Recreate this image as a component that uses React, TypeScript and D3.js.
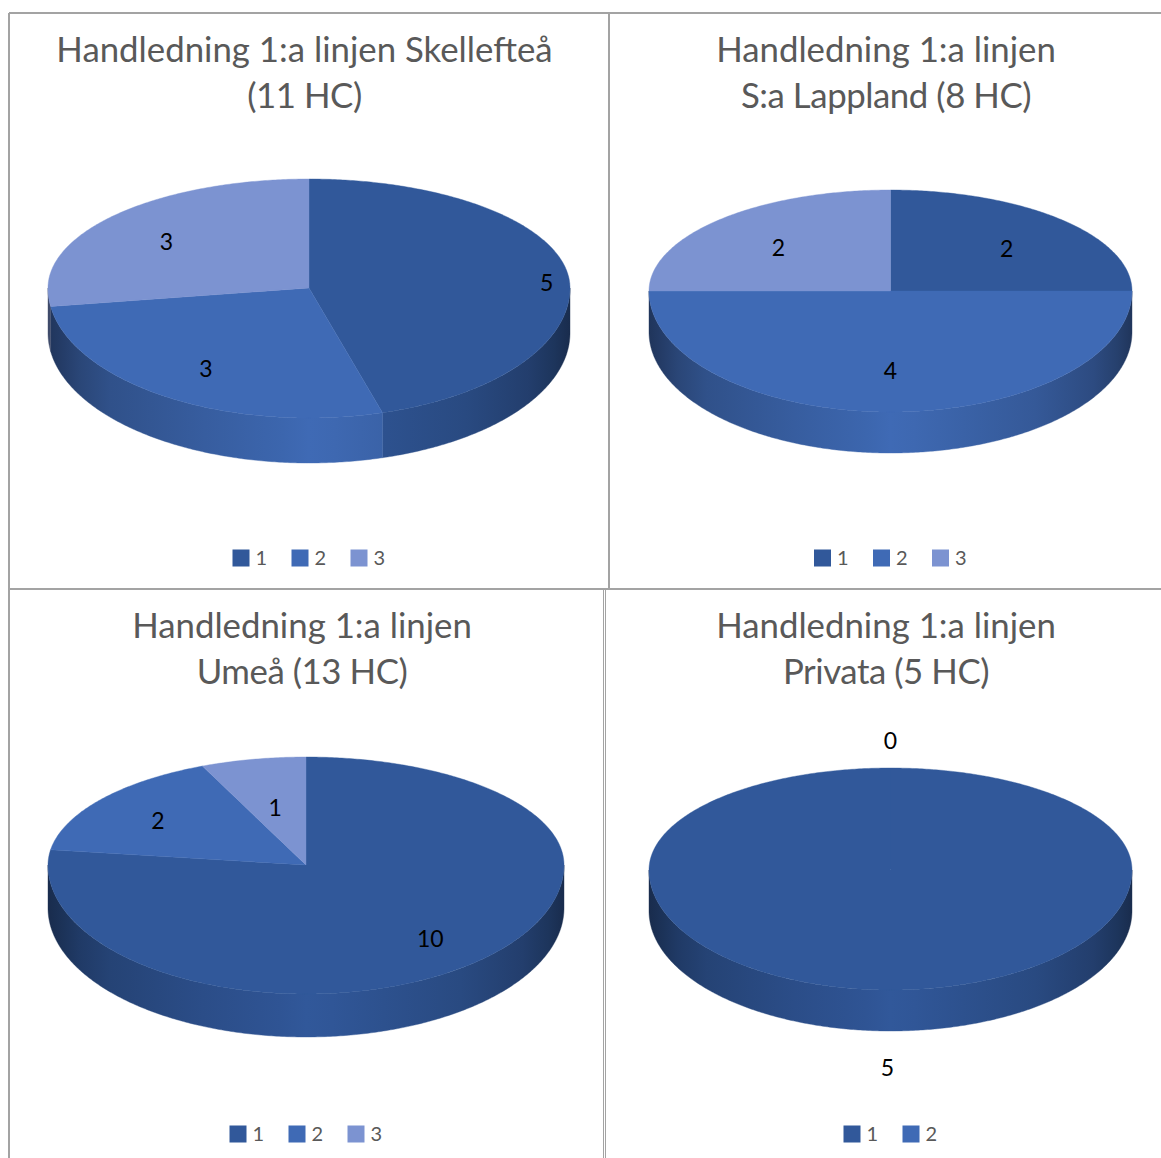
import React from "react";
import * as d3 from "d3";

// Slice counts per clinic group
const skellefteaValues = [5, 3, 3];
const lapplandValues = [2, 4, 2];
const umeaValues = [10, 2, 1];
const privataValues = [0, 5];

const skellefteaTitle = ["Handledning 1:a linjen Skellefteå", "(11 HC)"];
const lapplandTitle = ["Handledning 1:a linjen", "S:a Lappland (8 HC)"];
const umeaTitle = ["Handledning 1:a linjen", "Umeå (13 HC)"];
const privataTitle = ["Handledning 1:a linjen", "Privata (5 HC)"];

const sliceColors = ["#31589a", "#3f6ab5", "#7c93d1"];
const privataColors = [sliceColors[0], sliceColors[0]];
const titleColor = "#595959";
const ruleColor = "#a3a3a3";

// Panel geometry: apex of the pie, horizontal radius, far and near radii of the tilted disc, wall depth.
const panels = [
  { id: "a", values: skellefteaValues, colors: sliceColors, title: skellefteaTitle, titleX: 304.5, titleY: 62, cx: 309, cy: 288, rx: 261, ryFar: 109, ryNear: 130, depth: 45, legendY: 558, labelR: [0.92, 0.745, 0.7], nudge: [[1, 12], [2, 0], [-15, 9]] },
  { id: "b", values: lapplandValues, colors: sliceColors, title: lapplandTitle, titleX: 886, titleY: 62, cx: 890.5, cy: 291, rx: 241.5, ryFar: 101, ryNear: 121, depth: 41, legendY: 558, labelR: [0.65, 0.66, 0.65], nudge: [[15, 8], [0, 0], [-11, 7]] },
  { id: "c", values: umeaValues, colors: sliceColors, title: umeaTitle, titleX: 302, titleY: 638, cx: 306, cy: 865, rx: 258, ryFar: 108, ryNear: 129, depth: 43, legendY: 1134, labelR: [0.75, 0.7, 0.5], nudge: [[-4, 2], [-8, 4], [-5, -4]] },
  { id: "d", values: privataValues, colors: privataColors, title: privataTitle, titleX: 886, titleY: 638, cx: 890.5, cy: 870, rx: 241.5, ryFar: 102, ryNear: 120, depth: 41, legendY: 1134, labelR: [1.265, 1.65], nudge: [[0, 0], [-3, 0]] },
];

const farWarp = 0.085;
const legendStep = 59;
const legendGap = 24;
const swatch = 17;

type Panel = (typeof panels)[number];

// Foreshortening: slice boundaries on the far half of the disc lean toward the back.
function warp(a: number): number {
  return Math.cos(a) > 0 ? a - farWarp * Math.sin(2 * a) : a;
}

// Point on the tilted disc at projected angle `t`, at fraction `r` of the radius.
function discPoint(p: Panel, t: number, r = 1, drop = 0): [number, number] {
  const c = Math.cos(t);
  const x = p.cx + p.rx * r * Math.sin(t);
  const y = p.cy - r * c * (c > 0 ? p.ryFar : p.ryNear) + drop;
  return [x, y];
}

function samples(a0: number, a1: number): number[] {
  const n = Math.max(2, Math.ceil((a1 - a0) / 0.01));
  const step = d3.scaleLinear().domain([0, n]).range([a0, a1]);
  return d3.range(n + 1).map((i) => step(i));
}

const line = d3.line<[number, number]>();

// Side wall of a slice, limited to the front half of the disc.
function wallPath(p: Panel, a0: number, a1: number): string | null {
  const from = Math.max(warp(a0), Math.PI / 2);
  const to = Math.min(warp(a1), (3 * Math.PI) / 2);
  if (to <= from) return null;
  const angles = samples(from, to);
  const upper = angles.map((a) => discPoint(p, a));
  const lower = angles.slice().reverse().map((a) => discPoint(p, a, 1, p.depth));
  return line([...upper, ...lower]) + "Z";
}

function facePath(p: Panel, a0: number, a1: number): string {
  const rim = samples(warp(a0), warp(a1)).map((a) => discPoint(p, a));
  return line([[p.cx, p.cy], ...rim]) + "Z";
}

const wallShades: [number, number][] = [
  [0, 0.5],
  [0.03, 0.58],
  [0.06, 0.66],
  [0.12, 0.76],
  [0.3, 0.88],
  [0.45, 0.96],
  [0.5, 1],
  [0.55, 0.98],
  [0.65, 0.92],
  [0.8, 0.84],
  [0.92, 0.71],
  [0.97, 0.6],
  [1, 0.5],
];

function shade(color: string, k: number): string {
  const c = d3.rgb(color);
  return d3.rgb(c.r * k, c.g * k, c.b * k).formatHex();
}

function PiePanel({ p }: { p: Panel }) {
  const arcs = d3.pie<number>().sort(null)(p.values);
  const n = p.values.length;
  const legendX = p.cx - (n * legendStep - legendGap) / 2;
  return (
    <g>
      <defs>
        {p.colors.map((col, i) => (
          <linearGradient key={i} id={`wall-${p.id}-${i}`} gradientUnits="userSpaceOnUse" x1={p.cx - p.rx} x2={p.cx + p.rx} y1={0} y2={0}>
            {wallShades.map(([o, k]) => (
              <stop key={o} offset={o} stopColor={shade(col, k)} />
            ))}
          </linearGradient>
        ))}
      </defs>
      {p.title.map((t, i) => (
        <text key={i} x={p.titleX} y={p.titleY + i * 46} textAnchor="middle" fontFamily="Lato" fontSize={34.8} letterSpacing={i === 1 ? -0.45 : 0} fill={titleColor}>
          {t}
        </text>
      ))}
      {arcs.map((d, i) => {
        const w = wallPath(p, d.startAngle, d.endAngle);
        return w ? <path key={i} d={w} fill={`url(#wall-${p.id}-${i})`} stroke={`url(#wall-${p.id}-${i})`} strokeWidth={0.4} /> : null;
      })}
      {arcs.map((d, i) =>
        d.endAngle > d.startAngle ? <path key={i} d={facePath(p, d.startAngle, d.endAngle)} fill={p.colors[i]} stroke={p.colors[i]} strokeWidth={0.4} /> : null
      )}
      {arcs.map((d, i) => {
        const mid = (d.startAngle + d.endAngle) / 2;
        const [x, y] = discPoint(p, warp(mid), p.labelR[i]);
        return (
          <text key={i} x={x + p.nudge[i][0]} y={y + p.nudge[i][1] + 8} textAnchor="middle" fontFamily="Lato" fontSize={23} fill="#000">
            {p.values[i]}
          </text>
        );
      })}
      {p.values.map((_, i) => (
        <g key={i} transform={`translate(${legendX + i * legendStep},${p.legendY})`}>
          <rect x={0} y={-swatch / 2} width={swatch} height={swatch} fill={sliceColors[i]} />
          <text x={23} y={7} fontFamily="Lato" fontSize={20} fill={titleColor}>
            {i + 1}
          </text>
        </g>
      ))}
    </g>
  );
}

export default function App() {
  return (
    <svg width={1161} height={1158} style={{ position: "absolute", left: 0, top: 0, background: "#fff" }}>
      <g stroke={ruleColor} strokeWidth={2} shapeRendering="crispEdges">
        <line x1={9} x2={1161} y1={13} y2={13} />
        <line x1={9} x2={1161} y1={589} y2={589} />
        <line x1={9} x2={9} y1={13} y2={1158} />
        <line x1={609} x2={609} y1={13} y2={589} />
        <line x1={603} x2={603} y1={589} y2={1158} strokeWidth={1} />
        <line x1={605} x2={605} y1={589} y2={1158} strokeWidth={1} />
      </g>
      {panels.map((p) => (
        <PiePanel key={p.id} p={p} />
      ))}
    </svg>
  );
}
